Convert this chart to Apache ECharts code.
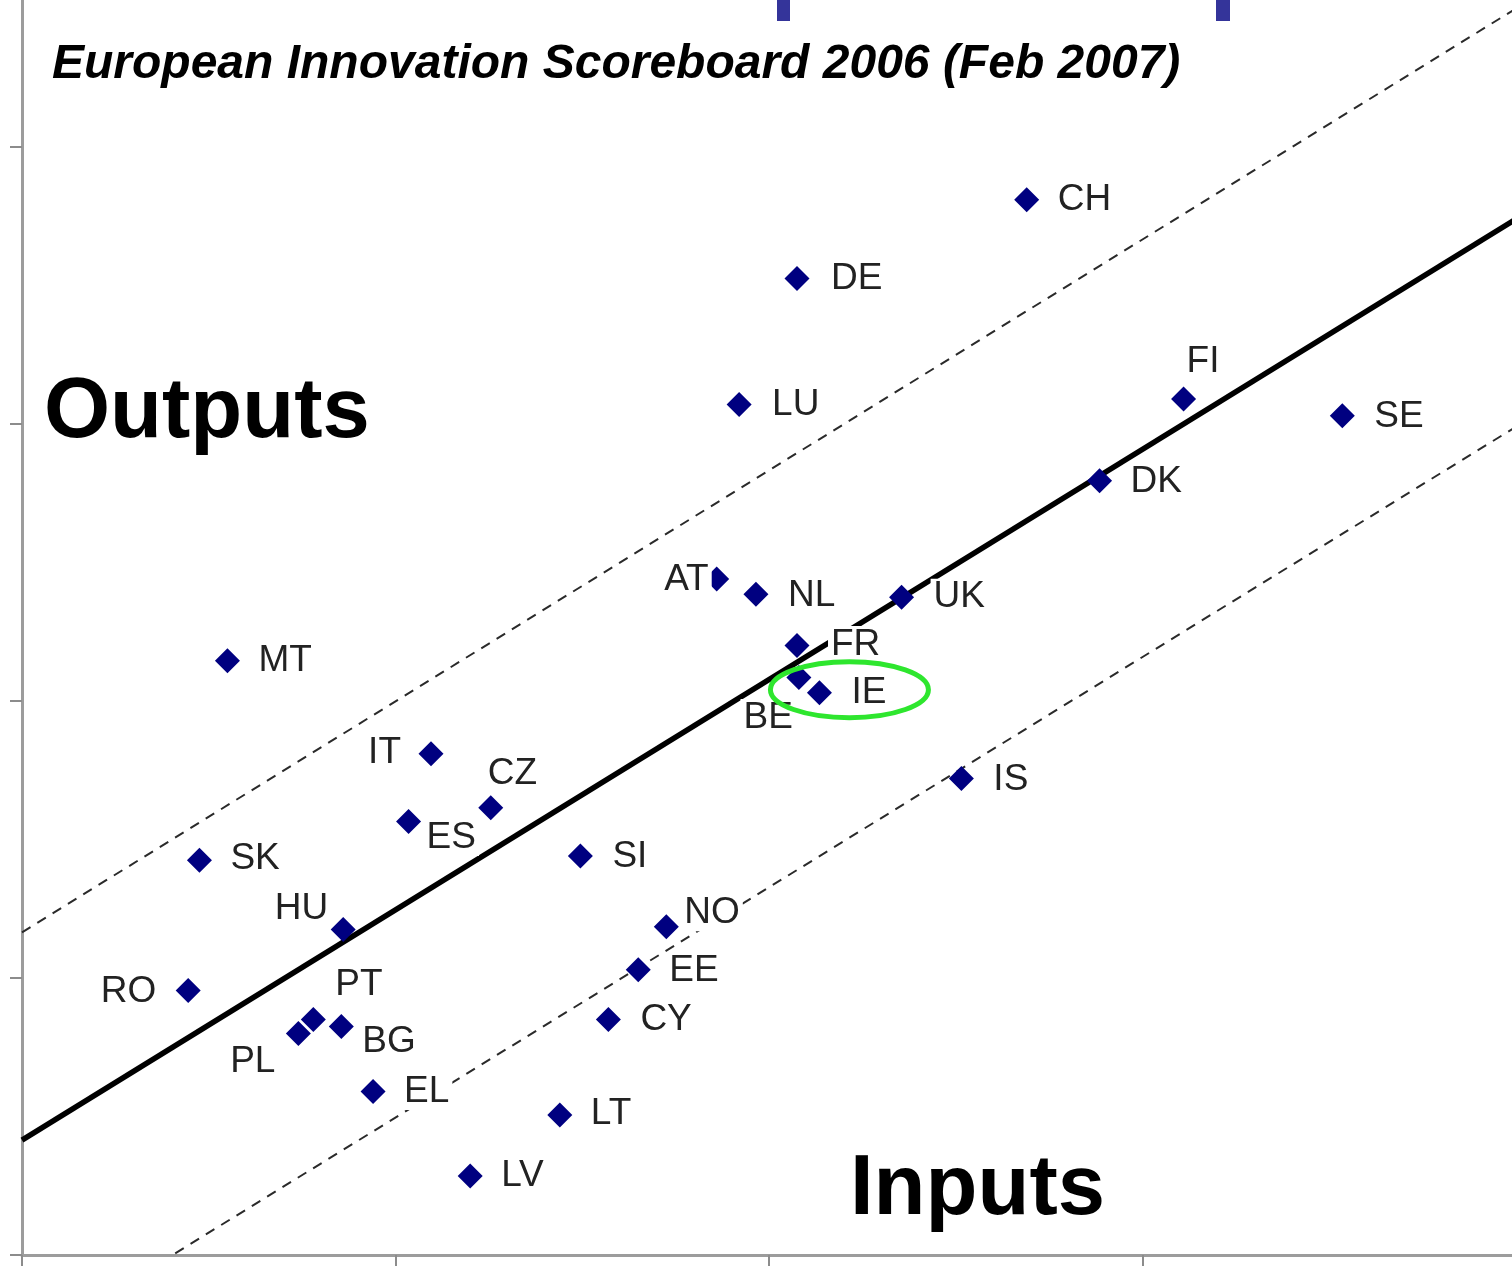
<!DOCTYPE html>
<html>
<head>
<meta charset="utf-8">
<script src="https://cdn.jsdelivr.net/npm/echarts@6/dist/echarts.min.js"></script>
<style>
html, body { margin: 0; padding: 0; background: #fff; overflow: hidden; width: 1512px; height: 1266px; }
/* the picture is a crop: the plot runs 130px above the top edge and a bit past the right */
#chart { position: absolute; left: 0; top: -130px; width: 1516px; height: 1396px; }
</style>
</head>
<body>
<div id="chart"></div>
<script>
// data (innovation inputs vs outputs)
var countries = ['CH', 'DE', 'LU', 'FI', 'SE', 'DK', 'AT', 'NL', 'UK', 'FR',
                 'BE', 'IE', 'MT', 'IT', 'CZ', 'ES', 'SK', 'SI', 'IS', 'HU',
                 'NO', 'EE', 'RO', 'PT', 'PL', 'BG', 'CY', 'EL', 'LT', 'LV'];
var inputs = [0.538, 0.415, 0.384, 0.622, 0.707, 0.577, 0.372, 0.393, 0.471, 0.415,
              0.416, 0.427, 0.110, 0.219, 0.251, 0.207, 0.095, 0.299, 0.503, 0.172,
              0.345, 0.330, 0.089, 0.156, 0.148, 0.171, 0.314, 0.188, 0.288, 0.240];
var outputs = [0.762, 0.705, 0.614, 0.618, 0.606, 0.559, 0.488, 0.477, 0.475, 0.440,
               0.417, 0.406, 0.429, 0.362, 0.323, 0.313, 0.285, 0.288, 0.344, 0.235,
               0.237, 0.206, 0.191, 0.170, 0.160, 0.165, 0.170, 0.118, 0.101, 0.057];

// trend line and the two dashed bands (x at both ends, y at both ends)
var lineX = [0, 0.8];
var trendY = [0.083, 0.748];
var upperY = [0.233, 0.900];
var lowerY = [-0.067, 0.598];

// label placement: [dx, dy from point centre, side]
var labelPlace = {
    CH: [32, -2, 'left'], DE: [35, -2, 'left'], LU: [34, -2, 'left'], FI: [4, -39, 'left'],
    SE: [33, -1, 'left'], DK: [32, -1, 'left'], AT: [-9, -1, 'right'], NL: [33, -1, 'left'],
    UK: [33, -2, 'left'], FR: [35, -3, 'left'], BE: [-7, 38, 'right'], IE: [33, -2, 'left'],
    MT: [32, -2, 'left'], IT: [-31, -3, 'right'], CZ: [-2, -36, 'left'], ES: [19, 14, 'left'],
    SK: [32, -3, 'left'], SI: [33, -1, 'left'], IS: [33, -1, 'left'], HU: [-16, -23, 'right'],
    NO: [19, -16, 'left'], EE: [32, -1, 'left'], RO: [-33, -1, 'right'], PT: [23, -37, 'left'],
    PL: [-24, 26, 'right'], BG: [22, 13, 'left'], CY: [33, -2, 'left'], EL: [32, -2, 'left'],
    LT: [32, -3, 'left'], LV: [32, -2, 'left']
};

var SYM = 25;
var OFF = 130; // chart div starts this far above the page
var labelFont = '"Liberation Sans", Arial, sans-serif';

var myChart = echarts.init(document.getElementById('chart'));

function pairs(xs, ys) {
    var res = [];
    for (var i = 0; i < xs.length; i++) res.push([xs[i], ys[i]]);
    return res;
}

var points = countries.map(function (c, i) {
    var p = labelPlace[c];
    var pad = 4;
    var ax = SYM / 2 + p[0] + (p[2] === 'left' ? -pad : pad);
    return {
        name: c,
        value: [inputs[i], outputs[i]],
        label: {
            position: [ax, SYM / 2 + p[1] + 2],
            align: p[2]
        }
    };
});

var axisCommon = {
    type: 'value',
    min: 0,
    interval: 0.2,
    axisLine: { show: true, onZero: false, lineStyle: { color: '#9c9c9c', width: 3 } },
    axisTick: { show: true, length: 12, lineStyle: { color: '#8c8c8c', width: 2 } },
    axisLabel: { show: false },
    splitLine: { show: false }
};

var option = {
    backgroundColor: '#fff',
    animation: false,
    grid: { left: 22, right: 0, top: 0, bottom: 11 },
    xAxis: echarts.util.merge({ max: 0.8 }, axisCommon, true),
    yAxis: echarts.util.merge({ max: 1.0 }, axisCommon, true),
    series: [
        {
            type: 'line', z: 1, symbol: 'none', silent: true,
            lineStyle: { color: '#000', width: 5.5 },
            data: pairs(lineX, trendY)
        },
        {
            type: 'line', z: 1, symbol: 'none', silent: true,
            lineStyle: { color: '#2a2a2a', width: 2, type: [10, 8] },
            data: pairs(lineX, upperY)
        },
        {
            type: 'line', z: 1, symbol: 'none', silent: true,
            lineStyle: { color: '#2a2a2a', width: 2, type: [10, 8] },
            data: pairs(lineX, lowerY)
        },
        {
            type: 'scatter', z: 3,
            symbol: 'diamond',
            symbolSize: SYM,
            itemStyle: { color: '#000080', opacity: 1 },
            label: {
                show: true,
                formatter: '{b}',
                verticalAlign: 'middle',
                fontFamily: labelFont,
                fontSize: 37,
                color: '#222',
                backgroundColor: '#fff',
                padding: [0, 3]
            },
            data: points
        }
    ],
    graphic: [
        { type: 'rect', shape: { x: 777, y: OFF, width: 13, height: 21 }, style: { fill: '#34349a' } },
        { type: 'rect', shape: { x: 1216, y: OFF, width: 14, height: 21 }, style: { fill: '#34349a' } },
        {
            type: 'text', x: 52, y: OFF + 65,
            style: {
                text: 'European Innovation Scoreboard 2006 (Feb 2007)',
                font: 'italic bold 48px "Liberation Sans", Arial, sans-serif',
                fill: '#000', verticalAlign: 'middle'
            }
        },
        {
            type: 'text', x: 44, y: OFF + 414,
            style: {
                text: 'Outputs',
                font: 'bold 85px "Liberation Sans", Arial, sans-serif',
                fill: '#000', verticalAlign: 'middle'
            }
        },
        {
            type: 'text', x: 850, y: OFF + 1191,
            style: {
                text: 'Inputs',
                font: 'bold 85px "Liberation Sans", Arial, sans-serif',
                fill: '#000', verticalAlign: 'middle'
            }
        }
    ]
};

myChart.setOption(option);

// green ring round Ireland
var ie = countries.indexOf('IE');
var iePx = myChart.convertToPixel({ gridIndex: 0 }, [inputs[ie], outputs[ie]]);
myChart.setOption({
    graphic: [{
        id: 'ring', type: 'ellipse', z: 10,
        shape: { cx: iePx[0] + 30, cy: iePx[1] - 3, rx: 79, ry: 28 },
        style: { fill: 'none', stroke: '#2ee62e', lineWidth: 5 }
    }]
});
</script>
</body>
</html>
